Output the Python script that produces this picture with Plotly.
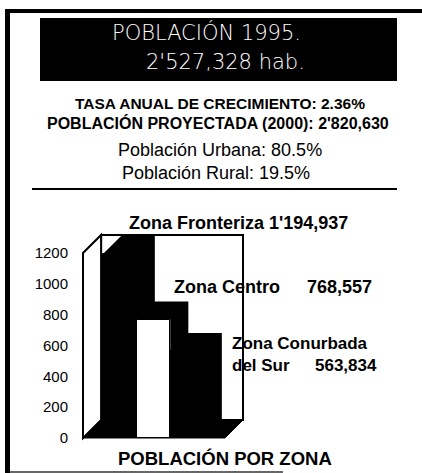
import plotly.graph_objects as go

# ---------------- data ----------------
zones = ["Zona Fronteriza", "Zona Centro", "Zona Conurbada del Sur"]
poblacion = [1194937, 768557, 563834]
valores_miles = [p / 1000 for p in poblacion]
y_ticks = [0, 200, 400, 600, 800, 1000, 1200]
front_colors = ["black", "white", "black"]

titulo = "POBLACIÓN 1995."
total_txt = "2'527,328 hab."
tasa_txt = "TASA ANUAL DE CRECIMIENTO: 2.36%"
proy_txt = "POBLACIÓN PROYECTADA (2000): 2'820,630"
urbana_txt = "Población Urbana: 80.5%"
rural_txt = "Población Rural: 19.5%"
pie_txt = "POBLACIÓN POR ZONA"

# ---------------- layout constants ----------------
W, H = 422, 473
PX_PER_X = 33.5          # pixels per category slot
PX_PER_Y = 185 / 1200    # pixels per thousand inhabitants
DX = 0.54                # depth offset (x units)
DY = 117                 # depth offset (y units)
BAR_W = 1.0
X_MIN, X_MAX = -1.104, 3.672
WALL_TOP = y_ticks[-1]
Y_MAX = WALL_TOP + DY
PADX, PADY = 4 / PX_PER_X, 4 / PX_PER_Y

ML = 79
MB = 31
plot_w = (X_MAX - X_MIN + 2 * PADX) * PX_PER_X
plot_h = (Y_MAX + 2 * PADY) * PX_PER_Y
MR = W - ML - plot_w
MT = H - MB - plot_h

def pxx(px):
    return (px - ML) / plot_w

def pxy(py):
    return (H - MB - py) / plot_h

def fmt(n):
    s = f"{n:,}"
    parts = s.split(",")
    if len(parts) == 3:
        return parts[0] + "'" + parts[1] + "," + parts[2]
    return s

FONT = "Liberation Sans, Arial, sans-serif"
xs = list(range(len(zones)))

fig = go.Figure()
fig.add_trace(go.Bar(
    x=xs, y=valores_miles, width=BAR_W,
    marker=dict(color=front_colors, line=dict(color="black", width=1)),
    hoverinfo="skip", showlegend=False,
))

shapes = []
# back wall
shapes.append(dict(type="rect", xref="x", yref="y", layer="below",
                   x0=X_MIN + DX, x1=X_MAX, y0=DY, y1=Y_MAX,
                   fillcolor="white", line=dict(color="black", width=2)))
# left wall
shapes.append(dict(type="path", xref="x", yref="y", layer="below",
                   path=f"M{X_MIN},0 L{X_MIN},{WALL_TOP} L{X_MIN + DX},{Y_MAX} L{X_MIN + DX},{DY} Z",
                   fillcolor="white", line=dict(color="black", width=2)))
# floor
shapes.append(dict(type="path", xref="x", yref="y", layer="below",
                   path=f"M{X_MIN},0 L{X_MAX - DX},0 L{X_MAX},{DY} L{X_MIN + DX},{DY} Z",
                   fillcolor="black", line=dict(color="black", width=1)))
# depth (top + side) of each bar
for x, v in zip(xs, valores_miles):
    x0, x1 = x - BAR_W / 2, x + BAR_W / 2
    shapes.append(dict(type="path", xref="x", yref="y", layer="below",
                       path=(f"M{x0},{v} L{x0 + DX},{v + DY} L{x1 + DX},{v + DY} "
                             f"L{x1 + DX},{DY} L{x1},0 L{x1},{v} Z"),
                       fillcolor="black", line=dict(color="black", width=0)))

# frame, header box, rule
shapes.append(dict(type="rect", xref="paper", yref="paper",
                   x0=pxx(40), x1=pxx(397), y0=pxy(81), y1=pxy(18),
                   fillcolor="black", line=dict(width=0)))
shapes.append(dict(type="line", xref="paper", yref="paper",
                   x0=pxx(7.5), x1=pxx(7.5), y0=pxy(9), y1=pxy(473),
                   line=dict(color="black", width=5)))
shapes.append(dict(type="line", xref="paper", yref="paper",
                   x0=pxx(5), x1=pxx(422), y0=pxy(11), y1=pxy(11),
                   line=dict(color="black", width=4)))
shapes.append(dict(type="line", xref="paper", yref="paper",
                   x0=pxx(32), x1=pxx(397), y0=pxy(189), y1=pxy(189),
                   line=dict(color="black", width=2)))
shapes.append(dict(type="line", xref="paper", yref="paper",
                   x0=pxx(10), x1=pxx(283), y0=pxy(472), y1=pxy(472),
                   line=dict(color="#333333", width=1.5)))

ann = []
def text(t, px, py, size, bold=False, color="black", xanchor="center", family=FONT,
         weight=None, align="center"):
    f = dict(family=family, size=size, color=color)
    if weight is not None:
        f["weight"] = weight
    elif bold:
        f["weight"] = "bold"
    ann.append(dict(text=t, x=pxx(px), y=pxy(py), xref="paper", yref="paper",
                    xanchor=xanchor, yanchor="middle", showarrow=False, font=f,
                    align=align))

HFONT = "DejaVu Sans, Liberation Sans, sans-serif"
text(titulo, 206, 32, 21, color="white", family=HFONT, weight=300)
text(total_txt, 225, 62, 21, color="white", family=HFONT, weight=300)
text(tasa_txt, 220, 103, 15.5, bold=True)
text(proy_txt, 218, 123, 16, bold=True)
text(urbana_txt, 220, 150, 18)
text(rural_txt, 216, 173, 18)

text(f"{zones[0]} {fmt(poblacion[0])}", 238, 223, 18, bold=True)
text(zones[1], 172, 287, 18, bold=True, xanchor="left")
text(fmt(poblacion[1]), 305, 287, 18, bold=True, xanchor="left")
z3a, z3b = zones[2].rsplit(" del ", 1)
text(z3a + "<br>del " + z3b, 230, 354, 17, bold=True, xanchor="left", align="left")
text(fmt(poblacion[2]), 313, 365, 17, bold=True, xanchor="left")
text(pie_txt, 225, 459, 18.5, bold=True)

fig.update_layout(
    width=W, height=H,
    margin=dict(l=ML, r=MR, t=MT, b=MB, pad=0),
    paper_bgcolor="white", plot_bgcolor="white",
    shapes=shapes, annotations=ann,
    showlegend=False,
    xaxis=dict(range=[X_MIN - PADX, X_MAX + PADX], visible=False, fixedrange=True),
    yaxis=dict(range=[-PADY, Y_MAX + PADY], tickvals=y_ticks,
               ticktext=[str(t) for t in y_ticks], showgrid=False, zeroline=False,
               showline=False, ticks="", ticklabelstandoff=10,
               tickfont=dict(family=FONT, size=15, color="black"), fixedrange=True),
    bargap=0,
)

fig.write_html("out.html", config={"displayModeBar": False},
               post_script="document.body.style.margin='0';")
